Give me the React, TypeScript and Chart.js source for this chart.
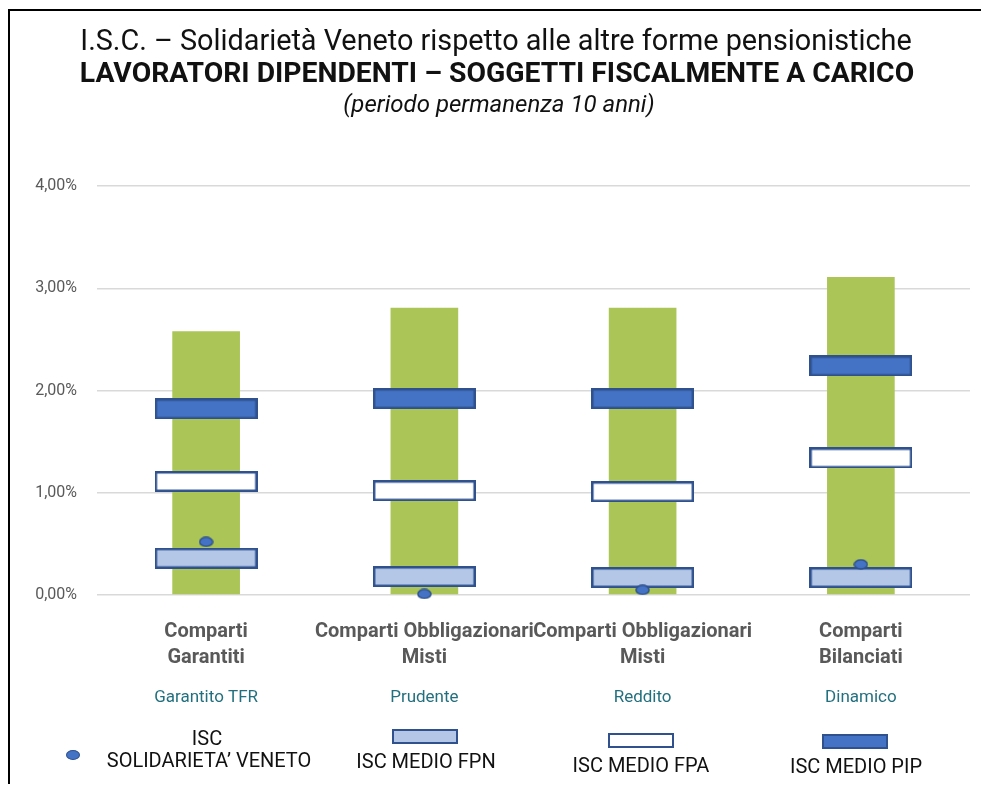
import React, { useEffect, useRef } from "react";
import { Chart, registerables } from "chart.js";

Chart.register(...registerables);

const categories: string[][] = [
  ["Comparti", "Garantiti"],
  ["Comparti Obbligazionari", "Misti"],
  ["Comparti Obbligazionari", "Misti"],
  ["Comparti", "Bilanciati"],
];
const subLabels = ["Garantito TFR", "Prudente", "Reddito", "Dinamico"];
const rangeMax = [2.58, 2.81, 2.81, 3.11];
const iscPIP = [1.82, 1.92, 1.92, 2.24];
const iscFPA = [1.11, 1.02, 1.01, 1.34];
const iscFPN = [0.36, 0.18, 0.17, 0.17];
const iscSolidarieta = [0.52, 0.01, 0.05, 0.3];
const yTicks = [0, 1, 2, 3, 4];

const GREEN = "#ABC556";
const DARK = "#4472C4";
const LIGHT = "#B4C7E7";
const EDGE = "#2F528F";
const FONT = "Roboto, 'Noto Sans', sans-serif";

function makeBox(fill: string, w: number, h: number): HTMLCanvasElement {
  const c = document.createElement("canvas");
  c.width = w;
  c.height = h;
  const ctx = c.getContext("2d")!;
  ctx.fillStyle = fill;
  ctx.fillRect(0, 0, w, h);
  ctx.strokeStyle = EDGE;
  ctx.lineWidth = 2.5;
  ctx.strokeRect(1.25, 1.25, w - 2.5, h - 2.5);
  return c;
}

function makeDot(w: number, h: number): HTMLCanvasElement {
  const c = document.createElement("canvas");
  c.width = w;
  c.height = h;
  const ctx = c.getContext("2d")!;
  ctx.beginPath();
  ctx.ellipse(w / 2, h / 2, w / 2 - 1, h / 2 - 1, 0, 0, Math.PI * 2);
  ctx.fillStyle = DARK;
  ctx.fill();
  ctx.strokeStyle = EDGE;
  ctx.lineWidth = 1.5;
  ctx.stroke();
  return c;
}

function LegendBox({ fill, x, y }: { fill: string; x: number; y: number }) {
  return (
    <div
      style={{
        position: "absolute",
        left: x,
        top: y,
        width: 66,
        height: 15,
        boxSizing: "border-box",
        background: fill,
        border: `2px solid ${EDGE}`,
      }}
    />
  );
}

function Txt({ x, y, children, style }: { x: number; y: number; children: React.ReactNode; style?: React.CSSProperties }) {
  return (
    <div
      style={{
        position: "absolute",
        left: x,
        top: y,
        transform: "translate(-50%, -50%)",
        whiteSpace: "nowrap",
        fontFamily: FONT,
        lineHeight: 1,
        ...style,
      }}
    >
      {children}
    </div>
  );
}

export default function App() {
  const ref = useRef<HTMLCanvasElement | null>(null);

  useEffect(() => {
    if (!ref.current) return;
    const pointDs = (label: string, data: number[], img: HTMLCanvasElement, order: number) => ({
      type: "line" as const,
      label,
      data,
      showLine: false,
      pointStyle: img,
      pointRadius: 10,
      pointHoverRadius: 10,
      clip: false as any,
      order,
      xAxisID: "x",
      yAxisID: "y",
    });
    const chart = new Chart(ref.current, {
      type: "bar",
      data: {
        labels: categories,
        datasets: [
          pointDs("ISC SOLIDARIETA’ VENETO", iscSolidarieta, makeDot(15, 11), 0),
          pointDs("ISC MEDIO FPN", iscFPN, makeBox(LIGHT, 103, 21), 1),
          pointDs("ISC MEDIO FPA", iscFPA, makeBox("#FFFFFF", 103, 21), 1),
          pointDs("ISC MEDIO PIP", iscPIP, makeBox(DARK, 103, 21), 1),
          {
            type: "bar" as const,
            label: "Range",
            data: rangeMax,
            backgroundColor: GREEN,
            barPercentage: 0.31,
            categoryPercentage: 1,
            order: 2,
            xAxisID: "x",
            yAxisID: "y",
          } as any,
        ],
      },
      options: {
        responsive: false,
        animation: false,
        devicePixelRatio: 1,
        layout: { padding: { top: 186, right: 11, bottom: 80, left: 0 } },
        plugins: { legend: { display: false }, tooltip: { enabled: false }, title: { display: false } },
        scales: {
          y: {
            min: 0,
            max: 4,
            afterBuildTicks: (scale: any) => {
              scale.ticks = yTicks.map((v) => ({ value: v }));
            },
            afterFit: (scale: any) => {
              scale.width = 97;
            },
            grid: { color: "#D9D9D9", lineWidth: 1.5, drawTicks: false },
            border: { display: false },
            ticks: {
              padding: 20,
              color: "#595959",
              font: { family: FONT, size: 16 },
              callback: (v: any) => Number(v).toFixed(2).replace(".", ",") + "%",
            },
          },
          x: {
            type: "category",
            offset: true,
            weight: 0,
            afterFit: (scale: any) => {
              scale.height = 80;
            },
            grid: { display: false },
            border: { display: false },
            ticks: {
              autoSkip: false,
              maxRotation: 0,
              minRotation: 0,
              padding: 16,
              color: "#595959",
              font: { family: FONT, size: 20, weight: "bold", lineHeight: 1.3 },
            },
          },
          x2: {
            type: "category",
            position: "bottom",
            labels: subLabels,
            offset: true,
            weight: 1,
            afterFit: (scale: any) => {
              scale.height = 30;
            },
            grid: { display: false },
            border: { display: false },
            ticks: {
              autoSkip: false,
              maxRotation: 0,
              minRotation: 0,
              padding: 5,
              color: "#22707F",
              font: { family: FONT, size: 17 },
            },
          },
        },
      } as any,
    });
    return () => chart.destroy();
  }, []);

  return (
    <div style={{ position: "absolute", left: 0, top: 0, width: 981, height: 785, background: "#fff", overflow: "hidden" }}>
      <div
        style={{
          position: "absolute",
          left: 8,
          top: 9,
          width: 990,
          height: 773,
          borderLeft: "2px solid #000",
          borderTop: "2px solid #000",
        }}
      />
      <canvas ref={ref} width={981} height={785} style={{ position: "absolute", left: 0, top: 0 }} />
      <Txt x={496} y={40} style={{ fontSize: 28.8, color: "#111" }}>
        I.S.C. – Solidarietà Veneto rispetto alle altre forme pensionistiche
      </Txt>
      <Txt x={497} y={73} style={{ fontSize: 28.3, fontWeight: "bold", color: "#111" }}>
        LAVORATORI DIPENDENTI – SOGGETTI FISCALMENTE A CARICO
      </Txt>
      <Txt x={499} y={104} style={{ fontSize: 24, fontStyle: "italic", color: "#111" }}>
        (periodo permanenza 10 anni)
      </Txt>
      <div
        style={{
          position: "absolute",
          left: 66,
          top: 750,
          width: 14,
          height: 10,
          borderRadius: "50%",
          background: DARK,
          border: `1.5px solid ${EDGE}`,
          boxSizing: "border-box",
        }}
      />
      <Txt x={207} y={738} style={{ fontSize: 20, color: "#111" }}>ISC</Txt>
      <Txt x={209} y={760} style={{ fontSize: 20, color: "#111" }}>SOLIDARIETA’ VENETO</Txt>
      <LegendBox fill={LIGHT} x={392} y={729} />
      <Txt x={426} y={761} style={{ fontSize: 20, color: "#111" }}>ISC MEDIO FPN</Txt>
      <LegendBox fill="#FFFFFF" x={608} y={733} />
      <Txt x={641} y={765} style={{ fontSize: 20, color: "#111" }}>ISC MEDIO FPA</Txt>
      <LegendBox fill={DARK} x={822} y={734} />
      <Txt x={856} y={766} style={{ fontSize: 20, color: "#111" }}>ISC MEDIO PIP</Txt>
    </div>
  );
}
